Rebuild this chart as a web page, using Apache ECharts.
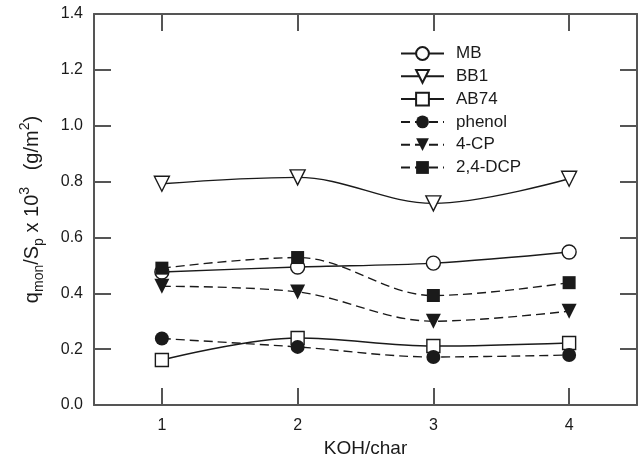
<!DOCTYPE html>
<html>
<head>
<meta charset="utf-8">
<script src="https://cdn.jsdelivr.net/npm/echarts@6/dist/echarts.min.js"></script>
<style>
  html, body { margin: 0; padding: 0; background: #fff; }
  #chart { width: 640px; height: 464px; }
</style>
</head>
<body>
<div id="chart"></div>
<script>
// KOH/char ratio on x, adsorbed amount per surface area on y
var kohRatio = [1, 2, 3, 4];

var mb     = [0.476, 0.494, 0.508, 0.548];
var bb1    = [0.792, 0.815, 0.722, 0.810];
var ab74   = [0.161, 0.240, 0.211, 0.222];
var phenol = [0.238, 0.208, 0.172, 0.179];
var cp4    = [0.425, 0.405, 0.300, 0.336];
var dcp24  = [0.490, 0.528, 0.392, 0.438];

var yTicks = [0, 0.2, 0.4, 0.6, 0.8, 1.0, 1.2, 1.4];

var frameColor = '#555';
var ink = '#1a1a1a';
var font = 'Liberation Sans';

function pairs(vals) {
  return vals.map(function (v, i) { return [kohRatio[i], v]; });
}

function makeSeries(name, vals, symbol, hollow, dashed, rotate, size) {
  return {
    name: name,
    type: 'line',
    data: pairs(vals),
    smooth: 0.35,
    symbol: symbol,
    symbolSize: size,
    symbolRotate: rotate || 0,
    lineStyle: { color: ink, width: 1.4, type: dashed ? [9, 5] : 'solid' },
    itemStyle: {
      color: hollow ? '#fff' : ink,
      borderColor: ink,
      borderWidth: hollow ? 1.4 : 0
    },
    emphasis: { disabled: true },
    z: 3
  };
}

var chart = echarts.init(document.getElementById('chart'));

var axisLine = { show: true, onZero: false, lineStyle: { color: frameColor, width: 2 } };
var tickStyle = { show: true, inside: true, length: 17, lineStyle: { color: frameColor, width: 2 } };

chart.setOption({
  backgroundColor: '#fff',
  animation: false,
  grid: { left: 94, right: 3, top: 14, bottom: 59 },
  legend: {
    orient: 'vertical',
    left: 400,
    top: 45,
    padding: 0,
    itemWidth: 43,
    itemHeight: 16,
    itemGap: 5.8,
    textStyle: { fontFamily: font, fontSize: 17, color: ink, padding: [0, 0, 0, 7] },
    data: ['MB', 'BB1', 'AB74', 'phenol', '4-CP', '2,4-DCP']
  },
  xAxis: [
    {
      type: 'value', position: 'bottom', min: 0.5, max: 4.5,
      name: 'KOH/char', nameLocation: 'middle', nameGap: 29,
      nameTextStyle: { fontFamily: font, fontSize: 19, color: ink },
      axisLine: axisLine,
      axisTick: Object.assign({ customValues: kohRatio }, tickStyle),
      splitLine: { show: false },
      axisLabel: { customValues: kohRatio, margin: 13, fontFamily: font, fontSize: 16, color: ink }
    },
    {
      type: 'value', position: 'top', min: 0.5, max: 4.5,
      axisLine: axisLine,
      axisTick: Object.assign({ customValues: kohRatio }, tickStyle),
      splitLine: { show: false },
      axisLabel: { show: false }
    }
  ],
  yAxis: [
    {
      type: 'value', position: 'left', min: 0, max: 1.4, interval: 0.2,
      name: '{b|q}{s|mon}{b|/S}{s|p}{b| x 10}{u|3}{b|   (g/m}{u|2}{b|)}',
      nameLocation: 'middle', nameGap: 48, nameRotate: 90,
      nameTextStyle: {
        rich: {
          b: { fontFamily: font, fontSize: 20, color: ink, lineHeight: 28, verticalAlign: 'middle' },
          s: { fontFamily: font, fontSize: 14, color: ink, lineHeight: 14, verticalAlign: 'bottom' },
          u: { fontFamily: font, fontSize: 14, color: ink, lineHeight: 14, verticalAlign: 'top' }
        }
      },
      axisLine: axisLine,
      axisTick: tickStyle,
      splitLine: { show: false },
      axisLabel: {
        margin: 11, fontFamily: font, fontSize: 16, color: ink,
        formatter: function (v) {
          var t = yTicks.find(function (k) { return Math.abs(k - v) < 1e-6; });
          return t === undefined ? '' : t.toFixed(1);
        }
      }
    },
    {
      type: 'value', position: 'right', min: 0, max: 1.4, interval: 0.2,
      axisLine: axisLine,
      axisTick: tickStyle,
      splitLine: { show: false },
      axisLabel: { show: false }
    }
  ],
  series: [
    makeSeries('MB', mb, 'circle', true, false, 0, 14),
    makeSeries('BB1', bb1, 'triangle', true, false, 180, 15),
    makeSeries('AB74', ab74, 'rect', true, false, 0, 13),
    makeSeries('phenol', phenol, 'circle', false, true, 0, 14),
    makeSeries('4-CP', cp4, 'triangle', false, true, 180, 15),
    makeSeries('2,4-DCP', dcp24, 'rect', false, true, 0, 13)
  ]
});
</script>
</body>
</html>
